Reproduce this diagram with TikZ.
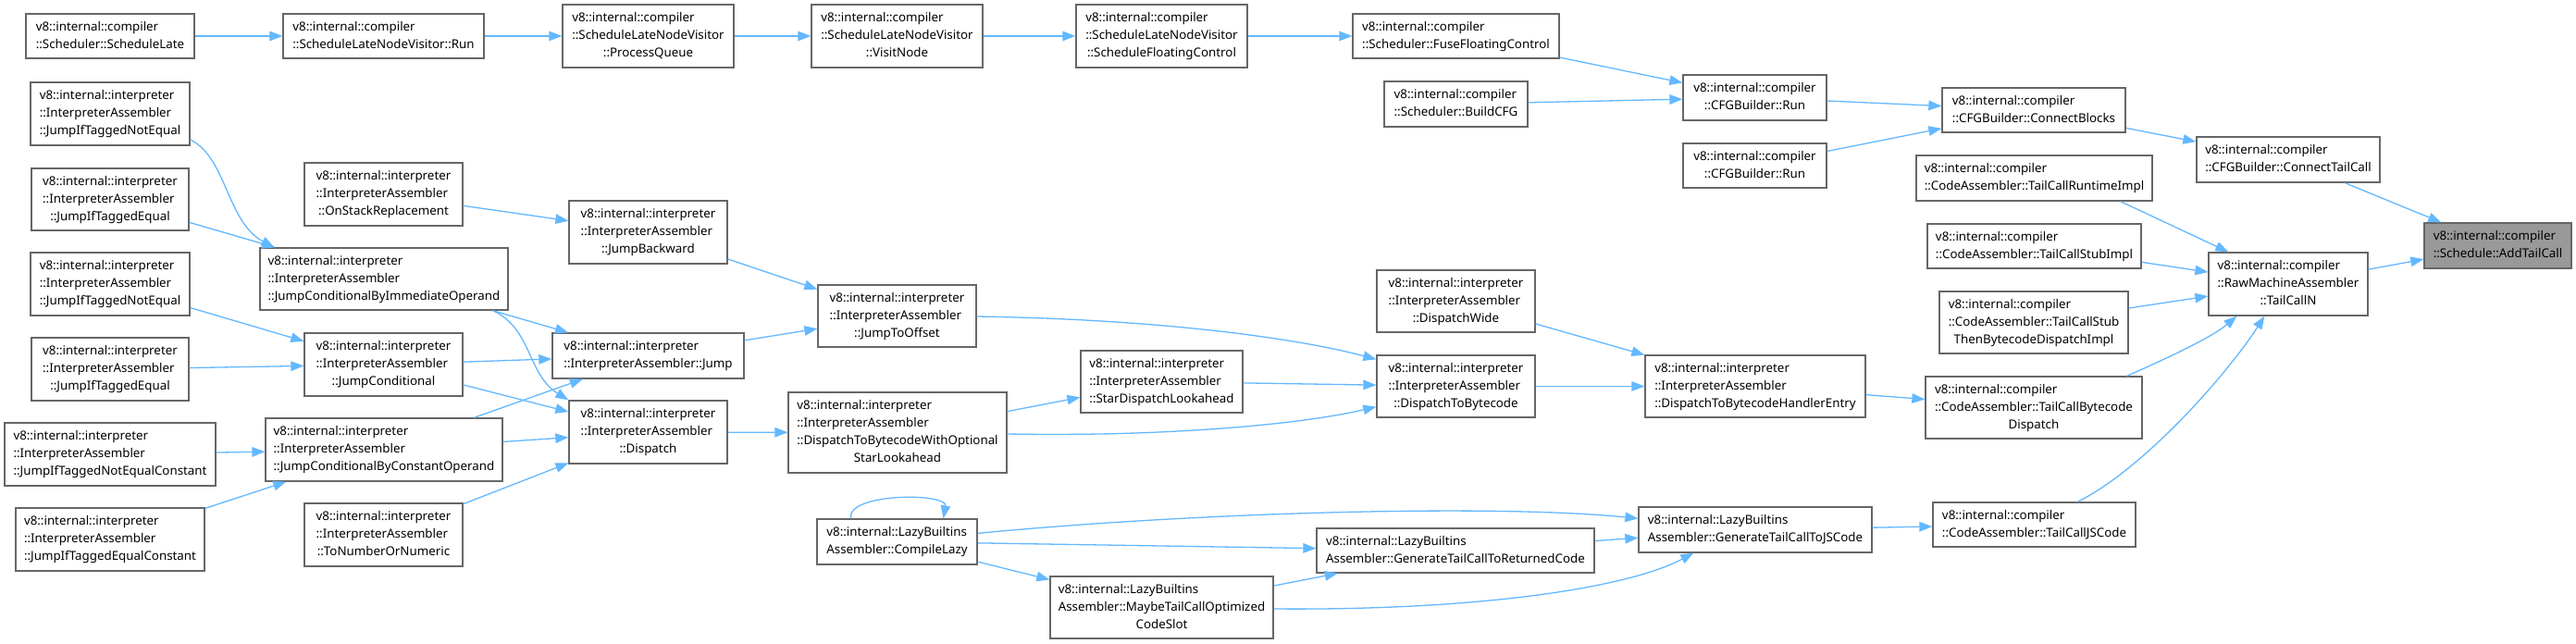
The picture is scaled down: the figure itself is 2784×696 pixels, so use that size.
\documentclass[tikz,border=0pt]{standalone}
\usepackage{fontspec}
\setmainfont{Noto Sans}
\usetikzlibrary{arrows.meta,calc}
\definecolor{edgeblue}{HTML}{63B8FF}
\definecolor{nodegray}{HTML}{666666}
\definecolor{hlgray}{HTML}{999999}
\newcommand\lbtwo[2]{\begin{tabular}{@{}l@{}}#1\\\multicolumn{1}{@{}c@{}}{#2}\end{tabular}}
\newcommand\lbthree[3]{\begin{tabular}{@{}l@{}}#1\\#2\\\multicolumn{1}{@{}c@{}}{#3}\end{tabular}}
\newcommand\lbfour[4]{\begin{tabular}{@{}l@{}}#1\\#2\\#3\\\multicolumn{1}{@{}c@{}}{#4}\end{tabular}}
\newcommand\gnode[6]{\node[fn, minimum width=#4pt, minimum height=#5pt] (#1) at (#2,#3) {#6};}
\newcommand\vic{v8::internal::compiler}
\newcommand\vii{v8::internal::interpreter}
\newcommand\via{::InterpreterAssembler}
\newcommand\vil{v8::internal::LazyBuiltins}
\tikzset{
  fn/.style={draw=nodegray, line width=1.3pt, fill=white, inner sep=0pt,
    font=\fontsize{13.33}{19}\selectfont},
  callarrow/.style={draw=edgeblue, line width=1.3pt, -{Triangle[length=14pt,width=10.5pt]}}
}
\begin{document}
\begin{tikzpicture}[x=1pt,y=-1pt]
\fill[white] (0,0) rectangle (2784,696);
\useasboundingbox (0,0) rectangle (2784,696);
% column 1
\gnode{sl}{119}{39}{182}{48}{\lbtwo{\vic}{::Scheduler::ScheduleLate}}
\gnode{jitnea}{119}{123}{172}{68}{\lbthree{\vii}{\via}{::JumpIfTaggedNotEqual}}
\gnode{jitea}{119}{215.5}{170}{67}{\lbthree{\vii}{\via}{::JumpIfTaggedEqual}}
\gnode{jitneb}{119}{307}{172}{68}{\lbthree{\vii}{\via}{::JumpIfTaggedNotEqual}}
\gnode{jiteb}{119}{399}{170}{68}{\lbthree{\vii}{\via}{::JumpIfTaggedEqual}}
\gnode{jitnec}{119}{491}{228}{68}{\lbthree{\vii}{\via}{::JumpIfTaggedNotEqualConstant}}
\gnode{jitec}{119}{583}{204}{68}{\lbthree{\vii}{\via}{::JumpIfTaggedEqualConstant}}
% column 2
\gnode{slrun}{414.5}{39}{217}{48}{\lbtwo{\vic}{::ScheduleLateNodeVisitor::Run}}
\gnode{osr}{414.5}{210}{171}{68}{\lbthree{\vii}{\via}{::OnStackReplacement}}
\gnode{jcbio}{415}{301.5}{268}{67}{\lbthree{\vii}{\via}{::JumpConditionalByImmediateOperand}}
\gnode{jc}{414.5}{394}{171}{68}{\lbthree{\vii}{\via}{::JumpConditional}}
\gnode{jcbco}{415}{486}{256}{68}{\lbthree{\vii}{\via}{::JumpConditionalByConstantOperand}}
\gnode{tnon}{414.5}{578}{171}{68}{\lbthree{\vii}{\via}{::ToNumberOrNumeric}}
% column 3
\gnode{pq}{700.5}{39}{185}{68}{\lbthree{\vic}{::ScheduleLateNodeVisitor}{::ProcessQueue}}
\gnode{jb}{700.5}{251}{171}{68}{\lbthree{\vii}{\via}{::JumpBackward}}
\gnode{jmp}{700.5}{384.5}{207}{49}{\lbtwo{\vii}{::InterpreterAssembler::Jump}}
\gnode{dsp}{700.5}{467}{171}{68}{\lbthree{\vii}{\via}{::Dispatch}}
% column 4
\gnode{vn}{969.5}{39}{185}{68}{\lbthree{\vic}{::ScheduleLateNodeVisitor}{::VisitNode}}
\gnode{jto}{969.5}{341.5}{171}{67}{\lbthree{\vii}{\via}{::JumpToOffset}}
\gnode{dtbw}{970}{467.5}{236}{87}{\lbfour{\vii}{\via}{::DispatchToBytecodeWithOptional}{StarLookahead}}
\gnode{cl}{969.5}{585.5}{173}{49}{\lbtwo{\vil}{Assembler::CompileLazy}}
% column 5
\gnode{sfc}{1255.5}{39}{185}{68}{\lbthree{\vic}{::ScheduleLateNodeVisitor}{::ScheduleFloatingControl}}
\gnode{sdl}{1255.5}{412.5}{175}{67}{\lbthree{\vii}{\via}{::StarDispatchLookahead}}
\gnode{mtc}{1255.5}{656.5}{241}{67}{\lbthree{\vil}{Assembler::MaybeTailCallOptimized}{CodeSlot}}
% column 6
\gnode{ffc}{1573.5}{39}{223}{48}{\lbtwo{\vic}{::Scheduler::FuseFloatingControl}}
\gnode{bcfg}{1573.5}{112.5}{155}{49}{\lbtwo{\vic}{::Scheduler::BuildCFG}}
\gnode{dw}{1573.5}{325.5}{171}{67}{\lbthree{\vii}{\via}{::DispatchWide}}
\gnode{dtb}{1573.5}{417.5}{171}{67}{\lbthree{\vii}{\via}{::DispatchToBytecode}}
\gnode{gtrc}{1573}{595}{300}{48}{\lbtwo{\vil}{Assembler::GenerateTailCallToReturnedCode}}
% column 7
\gnode{runa}{1896.5}{105.5}{155}{49}{\lbtwo{\vic}{::CFGBuilder::Run}}
\gnode{runb}{1896.5}{179}{155}{48}{\lbtwo{\vic}{::CFGBuilder::Run}}
\gnode{dtbhe}{1897}{417.5}{238}{67}{\lbthree{\vii}{\via}{::DispatchToBytecodeHandlerEntry}}
\gnode{gtjs}{1897}{572.5}{252}{49}{\lbtwo{\vil}{Assembler::GenerateTailCallToJSCode}}
% column 8
\gnode{cb}{2198}{119}{198}{48}{\lbtwo{\vic}{::CFGBuilder::ConnectBlocks}}
\gnode{tcri}{2198.5}{192.5}{255}{49}{\lbtwo{\vic}{::CodeAssembler::TailCallRuntimeImpl}}
\gnode{tcsi}{2198.5}{266}{231}{48}{\lbtwo{\vic}{::CodeAssembler::TailCallStubImpl}}
\gnode{tcst}{2198}{348.5}{204}{67}{\lbthree{\vic}{::CodeAssembler::TailCallStub}{ThenBytecodeDispatchImpl}}
\gnode{tcbd}{2198}{440.5}{234}{67}{\lbthree{\vic}{::CodeAssembler::TailCallBytecode}{Dispatch}}
\gnode{tcjs}{2198.5}{567}{219}{48}{\lbtwo{\vic}{::CodeAssembler::TailCallJSCode}}
% column 9
\gnode{ctc}{2473}{172.5}{198}{49}{\lbtwo{\vic}{::CFGBuilder::ConnectTailCall}}
\gnode{tcn}{2473}{307}{172}{68}{\lbthree{\vic}{::RawMachineAssembler}{::TailCallN}}
% column 10
\node[fn, fill=hlgray, minimum width=159pt, minimum height=49pt] (atc) at (2699.5,265.5) {\lbtwo{\vic}{::Schedule::AddTailCall}};
% straight edges
\foreach \a/\b in {sl/slrun, slrun/pq, pq/vn, vn/sfc, sfc/ffc, ffc/runa, bcfg/runa,
  runa/cb, runb/cb, cb/ctc, ctc/atc, tcn/atc, tcsi/tcn, tcst/tcn, dtbhe/tcbd,
  gtjs/tcjs, dw/dtbhe, dtb/dtbhe, gtrc/gtjs, cl/gtrc, cl/mtc, mtc/gtrc,
  dtbw/sdl, sdl/dtb, jmp/jto, jb/jto, dsp/dtbw, osr/jb, jcbio/jmp, jc/jmp,
  jc/dsp, jcbco/jmp, jcbco/dsp, tnon/dsp, jitea/jcbio, jitneb/jc, jiteb/jc,
  jitnec/jcbco, jitec/jcbco}
  \draw[callarrow] (\a) -- (\b);
% shaped edges
\draw[callarrow] ($(tcri.south east)+(-35,0)$) -- ($(tcn.north west)+(22,0)$);
\draw[callarrow] ($(tcbd.north east)+(-17,0)$) .. controls (2340,388) and (2390,365) .. ($(tcn.south west)+(31,0)$);
\draw[callarrow] ($(tcjs.north west)+(157,0)$) .. controls (2320,505) and (2410,400) .. ($(tcn.south west)+(61,0)$);
\draw[callarrow] ($(cl.north east)+(0,16)$) .. controls (1300,553) and (1620,545) .. ($(gtjs.north west)+(0,13)$);
\draw[callarrow] ($(mtc.east)+(0,1.5)$) .. controls (1600,660) and (1760,635) .. ($(gtjs.south west)+(60,0)$);
\draw[callarrow] ($(cl.north)+(-50,0)$) .. controls ($(cl.north)+(-55,-28)$) and ($(cl.north)+(55,-28)$) .. ($(cl.north)+(50,0)$);
\draw[callarrow] ($(dtbw.east)+(0,1.5)$) .. controls (1250,472) and (1400,460) .. ($(dtb.south west)+(0,-12)$);
\draw[callarrow] ($(jto.east)+(0,0.5)$) .. controls (1250,345) and (1400,365) .. ($(dtb.north west)+(0,5)$);
\draw[callarrow] ($(jcbio.south east)+(-17,0)$) .. controls (575,355) and (570,405) .. (dsp.north west);
\draw[callarrow] ($(jitnea.east)+(0,28)$) .. controls (245,170) and (245,240) .. ($(jcbio.north west)+(16,0)$);
\end{tikzpicture}
\end{document}
